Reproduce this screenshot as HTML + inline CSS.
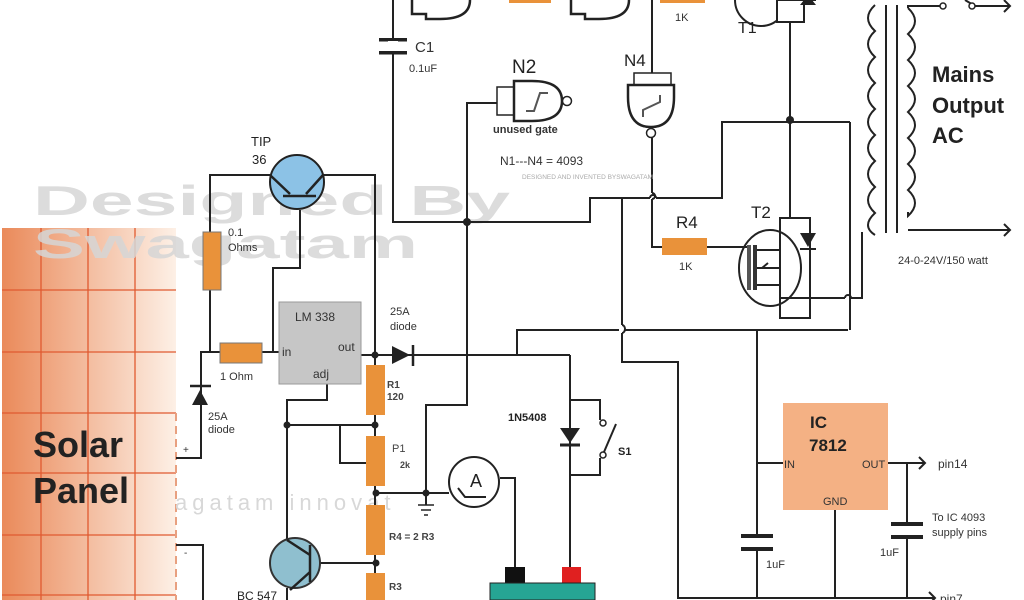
<!DOCTYPE html>
<html><head><meta charset="utf-8"><style>
html,body{margin:0;padding:0;background:#fff;width:1024px;height:600px;overflow:hidden}
svg{display:block}
text{font-family:"Liberation Sans",sans-serif}
</style></head><body>
<svg width="1024" height="600" viewBox="0 0 1024 600" xmlns="http://www.w3.org/2000/svg">
<defs>
<linearGradient id="sp" x1="0" x2="1" y1="0" y2="0">
<stop offset="0" stop-color="#ea8a5a"/><stop offset="1" stop-color="#fdf0e6"/></linearGradient>
</defs>
<!-- solar panel -->
<rect x="2" y="228" width="174" height="372" fill="url(#sp)"/>
<g stroke="#e05a30" stroke-width="1.3">
<line x1="41" y1="228" x2="41" y2="600"/><line x1="88" y1="228" x2="88" y2="600"/><line x1="135" y1="228" x2="135" y2="600"/>
<line x1="2" y1="290" x2="176" y2="290"/><line x1="2" y1="352" x2="176" y2="352"/><line x1="2" y1="413" x2="176" y2="413"/>
<line x1="2" y1="473" x2="176" y2="473"/><line x1="2" y1="535" x2="176" y2="535"/><line x1="2" y1="595" x2="176" y2="595"/>
</g>
<line x1="176" y1="413" x2="176" y2="600" stroke="#e8a080" stroke-width="2" stroke-dasharray="8,5"/>
<!-- watermark -->
<text x="33" y="215" font-size="42" font-weight="bold" fill="#d6d6d6" opacity="0.85" textLength="477" lengthAdjust="spacingAndGlyphs">Designed By</text>
<text x="33" y="258" font-size="42" font-weight="bold" fill="#d6d6d6" opacity="0.85" textLength="385" lengthAdjust="spacingAndGlyphs">Swagatam</text>
<text x="33" y="457" font-size="36" font-weight="bold" fill="#222">Solar</text>
<text x="33" y="503" font-size="36" font-weight="bold" fill="#222">Panel</text>
<text x="175" y="510" font-size="22" fill="#d8d8d8" letter-spacing="5">agatam innovat</text>

<g stroke="#222" stroke-width="2" fill="none">
<polyline points="176,458 201,458 201,352 279,352"/>
<polyline points="176,545 203,545 203,600"/>
<polyline points="270,175 210,175 210,352"/>
<polyline points="323,175 375,175 375,355"/>
<polyline points="300,210 300,268 273,268 273,352"/>
<polyline points="361,355 570,355"/>
<polyline points="375,355 375,600"/>
<polyline points="327,383 327,400 287,400 287,540"/>
<polyline points="287,425 375,425"/>
<polyline points="340,425 340,463 367,463"/>
<polyline points="376,493 449,493"/>
<polyline points="426,493 426,405 467,405 467,103 497,103"/>
<polyline points="426,493 426,505"/>
<polyline points="320,563 376,563"/>
<polyline points="287,588 287,600"/>
<polyline points="500,478 515,478 515,567"/>
<polyline points="570,567 570,355"/>
<polyline points="570,400 600,400 600,412"/>
<polyline points="600,462 600,475 570,475"/>
<polyline points="393,0 393,222 590,222 590,198 650,198"/>
<path d="M650,198 a3,3 0 0 1 6,0"/>
<polyline points="656,198 722,198 722,122 850,122"/>
<polyline points="622,198 622,325"/>
<path d="M622,325 a3,4 0 0 1 0,8"/>
<polyline points="622,333 622,362 678,362 678,598 935,598"/>
<polyline points="517,355 517,330 619,330"/>
<polyline points="625,330 848,330"/>
<polyline points="652,0 652,73"/>
<polyline points="652,138 652,193"/>
<path d="M652,193 a3,3 0 0 1 0,6"/>
<polyline points="652,199 652,247 662,247"/>
<polyline points="707,247 740,247"/>
<polyline points="790,0 790,218"/>
<polyline points="810,298 845,298"/>
<path d="M845,298 a3,3 0 0 1 6,0"/>
<polyline points="851,298 862,298 862,232"/>
<polyline points="850,122 850,330"/>
<polyline points="757,330 757,535"/>
<polyline points="757,550 757,598"/>
<polyline points="757,463 783,463"/>
<polyline points="888,463 925,463"/>
<polyline points="919,457 925,463 919,469"/>
<polyline points="907,463 907,522"/>
<polyline points="907,538 907,598"/>
<polyline points="835,510 835,598"/>
<polyline points="929,592 935,598 929,604"/>
<path d="M875,5 q-14,13 0,26 q-14,13 0,26 q-14,13 0,26 q-14,13 0,26 q-14,13 0,26 q-14,13 0,26 q-14,13 0,26 q-14,13 0,26 q-14,13 0,22"/>
<path d="M908,8 q14,13 0,26 q14,13 0,26 q14,13 0,26 q14,13 0,26 q14,13 0,26 q14,13 0,26 q14,13 0,26 q14,13 0,26 l0,-4"/>
<line x1="886" y1="5" x2="886" y2="233"/><line x1="897" y1="5" x2="897" y2="233"/>
<polyline points="908,8 908,6 940,6"/>
<polyline points="908,230 1010,230"/>
<polyline points="1004,224 1010,230 1004,236"/>
<line x1="965" y1="0" x2="975" y2="6"/>
<polyline points="975,6 1010,6"/>
<polyline points="1004,0 1010,6 1004,12"/>
</g>
<circle cx="943" cy="6" r="3" fill="#fff" stroke="#222" stroke-width="1.5"/>
<circle cx="972" cy="6" r="3" fill="#fff" stroke="#222" stroke-width="1.5"/>

<circle cx="297" cy="182" r="27" fill="#8cc2e6" stroke="#222" stroke-width="2"/>
<g stroke="#222" stroke-width="2.5" fill="none"><line x1="283" y1="196" x2="316" y2="196"/><line x1="270" y1="175" x2="290" y2="194"/><line x1="323" y1="175" x2="306" y2="194"/></g>
<text x="251" y="146" font-size="13" fill="#222">TIP</text><text x="252" y="164" font-size="13" fill="#222">36</text>
<rect x="203" y="232" width="18" height="58" fill="#e9923a" stroke="#777"/>
<text x="228" y="236" font-size="11" fill="#333">0.1</text><text x="228" y="251" font-size="11" fill="#333">Ohms</text>
<rect x="220" y="343" width="42" height="20" fill="#e9923a" stroke="#777"/>
<text x="220" y="380" font-size="11" fill="#333">1 Ohm</text>
<rect x="279" y="302" width="82" height="82" fill="#c6c6c6" stroke="#999"/>
<text x="295" y="321" font-size="12" fill="#333">LM 338</text>
<text x="282" y="356" font-size="12" fill="#333">in</text>
<text x="338" y="351" font-size="12" fill="#333">out</text>
<text x="313" y="378" font-size="12" fill="#333">adj</text>
<polygon points="192,405 208,405 200,390" fill="#222"/><line x1="190" y1="386" x2="211" y2="386" stroke="#222" stroke-width="2.5"/>
<text x="208" y="420" font-size="11" fill="#333">25A</text><text x="208" y="433" font-size="11" fill="#333">diode</text>
<text x="183" y="453" font-size="10" fill="#333">+</text><text x="184" y="556" font-size="10" fill="#333">-</text>
<polygon points="392,346 392,364 410,355" fill="#222"/><line x1="413" y1="345" x2="413" y2="366" stroke="#222" stroke-width="2.5"/>
<text x="390" y="315" font-size="11" fill="#333">25A</text><text x="390" y="330" font-size="11" fill="#333">diode</text>
<rect x="366" y="365" width="19" height="50" fill="#e9923a"/>
<text x="387" y="388" font-size="10" font-weight="bold" fill="#444">R1</text><text x="387" y="400" font-size="10" font-weight="bold" fill="#444">120</text>
<rect x="366" y="436" width="19" height="50" fill="#e9923a"/>
<text x="392" y="452" font-size="11" fill="#444">P1</text><text x="400" y="468" font-size="9" font-weight="bold" fill="#444">2k</text>
<rect x="366" y="505" width="19" height="50" fill="#e9923a"/>
<text x="389" y="540" font-size="10" font-weight="bold" fill="#444">R4 = 2 R3</text>
<rect x="366" y="573" width="19" height="27" fill="#e9923a"/>
<text x="389" y="590" font-size="10" font-weight="bold" fill="#444">R3</text>
<g fill="#222"><circle cx="375" cy="355" r="3.5"/><circle cx="375" cy="425" r="3.5"/><circle cx="287" cy="425" r="3.5"/><circle cx="376" cy="493" r="3.5"/><circle cx="426" cy="493" r="3.5"/><circle cx="376" cy="563" r="3.5"/><circle cx="467" cy="222" r="4"/><circle cx="790" cy="120" r="4"/></g>
<g stroke="#222" stroke-width="1.5"><line x1="418" y1="505" x2="434" y2="505"/><line x1="421" y1="510" x2="431" y2="510"/><line x1="424" y1="515" x2="428" y2="515"/></g>
<circle cx="474" cy="482" r="25" fill="#fff" stroke="#222" stroke-width="2"/>
<polyline points="458,488 465,497 486,497" fill="none" stroke="#222" stroke-width="2"/>
<text x="470" y="487" font-size="18" fill="#222">A</text>
<circle cx="295" cy="563" r="25" fill="#8fbfcf" stroke="#333" stroke-width="2"/>
<g stroke="#222" stroke-width="2.5"><line x1="310" y1="545" x2="310" y2="582"/><line x1="287" y1="540" x2="310" y2="555"/><line x1="310" y1="572" x2="290" y2="590"/></g>
<text x="237" y="600" font-size="12" fill="#222">BC 547</text>
<rect x="505" y="567" width="20" height="17" fill="#111"/>
<rect x="562" y="567" width="19" height="17" fill="#e02020"/>
<rect x="490" y="583" width="105" height="17" fill="#26a594" stroke="#222"/>
<polygon points="560,428 580,428 570,443" fill="#222"/><line x1="560" y1="445" x2="580" y2="445" stroke="#222" stroke-width="3"/>
<text x="508" y="421" font-size="11" font-weight="bold" fill="#222">1N5408</text>
<circle cx="603" cy="423" r="3" fill="#fff" stroke="#222" stroke-width="1.5"/><circle cx="603" cy="455" r="3" fill="#fff" stroke="#222" stroke-width="1.5"/>
<line x1="604" y1="452" x2="616" y2="424" stroke="#222" stroke-width="2"/>
<line x1="600" y1="412" x2="600" y2="420" stroke="#222" stroke-width="2"/><line x1="600" y1="458" x2="600" y2="462" stroke="#222" stroke-width="2"/>
<text x="618" y="455" font-size="11" font-weight="bold" fill="#222">S1</text>
<rect x="379" y="38" width="28" height="3.5" fill="#222"/><rect x="379" y="51" width="28" height="3.5" fill="#222"/>
<rect x="388" y="41" width="10" height="10" fill="#fff"/>
<text x="415" y="52" font-size="15" fill="#333">C1</text><text x="409" y="72" font-size="11" fill="#333">0.1uF</text>
<path d="M412,0 v14 h14 v5 h14 q30,0 30,-19" fill="#fff" stroke="#222" stroke-width="2.5"/>
<path d="M571,0 v14 h14 v5 h14 q30,0 30,-19" fill="#fff" stroke="#222" stroke-width="2.5"/>
<rect x="509" y="0" width="42" height="3" fill="#e9923a"/>
<rect x="660" y="0" width="45" height="3" fill="#e9923a"/>
<text x="675" y="21" font-size="11" fill="#333">1K</text>
<path d="M735,0 a26,26 0 0 0 52,0" fill="none" stroke="#222" stroke-width="2"/>
<rect x="777" y="0" width="27" height="22" fill="#fff" stroke="#222" stroke-width="2"/>
<polygon points="800,5 816,5 808,-5" fill="#222"/><line x1="800" y1="0" x2="816" y2="0" stroke="#222" stroke-width="2"/>
<line x1="790" y1="22" x2="790" y2="120" stroke="#222" stroke-width="2"/>
<text x="738" y="33" font-size="16" fill="#222">T1</text>
<rect x="497" y="87" width="17" height="28" fill="#fff" stroke="#222" stroke-width="1.5"/>
<path d="M514,81 h18 q30,0 30,20 q0,20 -30,20 h-18 z" fill="#fff" stroke="#222" stroke-width="2.5"/>
<circle cx="567" cy="101" r="4.5" fill="#fff" stroke="#222" stroke-width="1.5"/>
<polyline points="526,111 534,111 540,93 548,93" fill="none" stroke="#555" stroke-width="2"/>
<text x="512" y="73" font-size="19" fill="#222">N2</text>
<text x="493" y="133" font-size="11" font-weight="bold" fill="#333">unused gate</text>
<text x="500" y="165" font-size="12" fill="#333">N1---N4 = 4093</text>
<text x="522" y="179" font-size="6.5" fill="#aaa">DESIGNED AND INVENTED BYSWAGATAM</text>
<rect x="634" y="73" width="37" height="12" fill="#fff" stroke="#222" stroke-width="1.5"/>
<path d="M628,85 h46 v12 q0,30 -23,30 q-23,0 -23,-30 z" fill="#fff" stroke="#222" stroke-width="2.5"/>
<circle cx="651" cy="133" r="4.5" fill="#fff" stroke="#222" stroke-width="1.5"/>
<polyline points="643,117 643,110 660,102 660,95" fill="none" stroke="#555" stroke-width="2"/>
<text x="624" y="66" font-size="17" fill="#222">N4</text>
<rect x="662" y="238" width="45" height="17" fill="#e9923a"/>
<text x="676" y="228" font-size="17" fill="#222">R4</text><text x="679" y="270" font-size="11" fill="#333">1K</text>
<text x="751" y="218" font-size="17" fill="#222">T2</text>
<ellipse cx="770" cy="268" rx="31" ry="38" fill="#fff" stroke="#222" stroke-width="2"/>
<rect x="780" y="218" width="30" height="100" fill="none" stroke="#222" stroke-width="2"/>
<rect x="747" y="245" width="4" height="45" fill="#555"/><rect x="753" y="245" width="4" height="45" fill="#333"/>
<g stroke="#222" stroke-width="2" fill="none"><polyline points="740,247 747,247"/><polyline points="757,250 780,250"/><polyline points="757,268 780,268 780,250"/><polyline points="757,285 780,285 780,298 810,298"/><polyline points="762,268 768,263 M762,268 768,273"/></g>
<polygon points="800,233 816,233 808,247" fill="#222"/><line x1="800" y1="249" x2="816" y2="249" stroke="#222" stroke-width="2"/>
<rect x="783" y="403" width="105" height="107" fill="#f4b184"/>
<text x="810" y="428" font-size="17" font-weight="bold" fill="#222">IC</text>
<text x="809" y="451" font-size="17" font-weight="bold" fill="#222">7812</text>
<text x="784" y="468" font-size="11" fill="#333">IN</text>
<text x="862" y="468" font-size="11" fill="#333">OUT</text>
<text x="823" y="505" font-size="11" fill="#333">GND</text>
<text x="938" y="468" font-size="12" fill="#333">pin14</text>
<text x="940" y="603" font-size="12" fill="#333">pin7</text>
<rect x="741" y="534" width="32" height="4" fill="#222"/><rect x="741" y="547" width="32" height="4" fill="#222"/>
<rect x="891" y="522" width="32" height="4" fill="#222"/><rect x="891" y="535" width="32" height="4" fill="#222"/>
<text x="766" y="568" font-size="11" fill="#333">1uF</text>
<text x="880" y="556" font-size="11" fill="#333">1uF</text>
<text x="932" y="521" font-size="11" fill="#333">To IC 4093</text>
<text x="932" y="536" font-size="11" fill="#333">supply pins</text>
<text x="932" y="82" font-size="22" font-weight="bold" fill="#222">Mains</text>
<text x="932" y="113" font-size="22" font-weight="bold" fill="#222">Output</text>
<text x="932" y="143" font-size="22" font-weight="bold" fill="#222">AC</text>
<text x="898" y="264" font-size="11" fill="#333">24-0-24V/150 watt</text>
</svg>
</body></html>
